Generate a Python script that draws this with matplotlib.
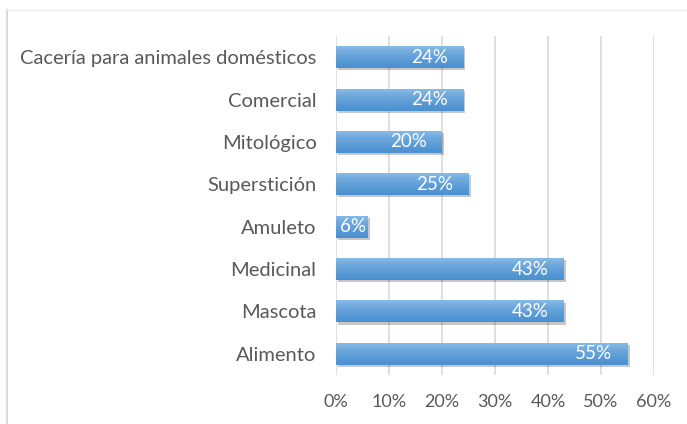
import matplotlib
matplotlib.use("Agg")
import matplotlib.pyplot as plt
import matplotlib.patheffects as pe
import numpy as np
from matplotlib.colors import LinearSegmentedColormap

categories = ["Alimento", "Mascota", "Medicinal", "Amuleto", "Superstición",
              "Mitológico", "Comercial", "Cacería para animales domésticos"]
values = [55, 43, 43, 6, 25, 20, 24, 24]
xticks = [0, 10, 20, 30, 40, 50, 60]
xtick_labels = ["0%", "10%", "20%", "30%", "40%", "50%", "60%"]

plt.rcParams["font.family"] = ["Lato", "DejaVu Sans"]

fig = plt.figure(figsize=(6.87, 4.24), dpi=100)
# outer chart frame (left and top edges visible)
fig.add_artist(plt.Line2D([7 / 687, 7 / 687], [0, 1 - 10 / 424], color="#d9d9d9", lw=1.5))
fig.add_artist(plt.Line2D([7 / 687, 1], [1 - 10 / 424, 1 - 10 / 424], color="#ececec", lw=1.0))

ax = fig.add_axes([336 / 687, 1 - 375 / 424, (654 - 336) / 687, (375 - 36) / 424])
y = np.arange(len(categories))
bars = ax.barh(y, values, height=0.52, color="#5b9bd5", zorder=3,
               path_effects=[pe.SimplePatchShadow(offset=(1.5, -1.5), shadow_rgbFace="#000000", alpha=0.22),
                             pe.Normal()])

# vertical gradient fill clipped to each bar
cmap = LinearSegmentedColormap.from_list("bar", ["#4a8fd0", "#5b9bd5", "#6ea8dd", "#8bbde6"])
grad = np.linspace(0, 1, 64).reshape(-1, 1)
for b in bars:
    x0, y0 = b.get_x(), b.get_y()
    w, h = b.get_width(), b.get_height()
    im = ax.imshow(grad, cmap=cmap, aspect="auto", origin="lower",
                   extent=(x0, x0 + w, y0, y0 + h), zorder=4, interpolation="bilinear")
    im.set_clip_path(b)

# value labels at the inner end of each bar; short bars get a centred label
for yi, v in zip(y, values):
    if v < 10:
        ax.annotate(f"{v}%", (v / 2, yi), xytext=(1, 0), textcoords="offset points",
                    ha="center", va="center", color="white", fontsize=13.5, zorder=5)
    else:
        ax.annotate(f"{v}%", (v, yi), xytext=(-11, 0), textcoords="offset points",
                    ha="right", va="center", color="white", fontsize=13.5, zorder=5)

ax.set_xlim(0, 60)
ax.set_ylim(-0.5, len(categories) - 0.5)
ax.set_xticks(xticks)
ax.set_xticklabels(xtick_labels, color="#595959", fontsize=13)
ax.set_yticks(y)
ax.set_yticklabels(categories, color="#595959", fontsize=14.5)
ax.tick_params(axis="both", length=0)
ax.tick_params(axis="x", pad=14)
ax.tick_params(axis="y", pad=14)
ax.grid(axis="x", color="#d9d9d9", lw=1.2, zorder=0)
ax.set_axisbelow(True)
for s in ax.spines.values():
    s.set_visible(False)

fig.savefig("out.png", dpi=100)
